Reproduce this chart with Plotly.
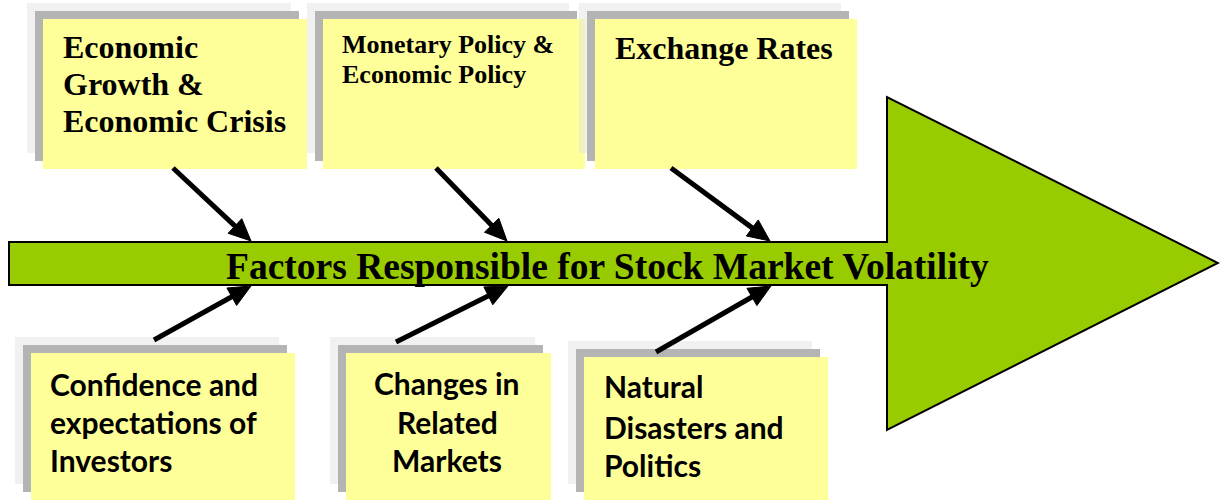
import math
import plotly.graph_objects as go

# ---- content ----
title_text = "Factors Responsible for Stock Market Volatility"
top_labels = [
    ["Economic", "Growth &", "Economic Crisis"],
    ["Monetary Policy &", "Economic Policy"],
    ["Exchange Rates"],
]
bottom_labels = [
    ["Confidence and", "expectations of", "Investors"],
    ["Changes in", "Related", "Markets"],
    ["Natural", "Disasters and", "Politics"],
]

# ---- layout geometry (pixel space) ----
W, H = 1220, 500
# yellow box rectangles (x0, y0, x1, y1)
top_boxes = [(43, 19, 307, 169), (323, 19, 585, 169), (595, 19, 857, 169)]
bottom_boxes = [(31, 353, 295, 500), (346, 353, 551, 500), (584, 357, 828, 500)]
# text settings
top_text_x = [61, 340, 613]
top_text_baseline = [[58, 95, 132], [53, 83], [59]]
top_font_size = [32, 26, 32]
bottom_align = ["left", "center", "left"]
bottom_text_x = [48, 447, 602]
bottom_text_baseline = [[394, 432, 470], [393, 432, 470], [396, 437, 475]]
bottom_font_size = 30

# small arrows (tail -> tip)
arrows = [
    ((173, 168), (251, 241)),
    ((436, 168), (507, 241)),
    ((671, 168), (770, 241)),
    ((154, 340), (251, 286)),
    ((396, 342), (508, 286)),
    ((656, 352), (771, 286)),
]

YELLOW = "#FFFF99"
DARK = "#B4B4B4"
LIGHT = "rgba(228,228,228,0.5)"
GREEN = "#99CC00"

fig = go.Figure()
shapes = []
annotations = []


def add_box(b):
    x0, y0, x1, y1 = b
    shapes.append(dict(type="rect", x0=x0 - 16, y0=y0 - 16, x1=x1 - 16, y1=y1 - 16,
                       fillcolor=LIGHT, line=dict(width=0), layer="above"))
    shapes.append(dict(type="rect", x0=x0 - 8, y0=y0 - 8, x1=x1 - 8, y1=y1 - 8,
                       fillcolor=DARK, line=dict(width=0), layer="above"))
    shapes.append(dict(type="rect", x0=x0, y0=y0, x1=x1, y1=y1,
                       fillcolor=YELLOW, line=dict(width=0), layer="above"))


for b in top_boxes + bottom_boxes:
    add_box(b)

# main arrow
shaft_y0, shaft_y1 = 242, 285
head_x, head_top, head_bot, tip_x, tip_y = 887, 97, 430, 1218, 263
path = (f"M 9,{shaft_y0} L {head_x},{shaft_y0} L {head_x},{head_top} L {tip_x},{tip_y} "
        f"L {head_x},{head_bot} L {head_x},{shaft_y1} L 9,{shaft_y1} Z")
shapes.append(dict(type="path", path=path, fillcolor=GREEN,
                   line=dict(color="black", width=2), layer="above"))

# small arrows
HEAD_LEN, HEAD_HALF, LW = 22, 10, 5
for (tx, ty), (hx, hy) in arrows:
    dx, dy = hx - tx, hy - ty
    L = math.hypot(dx, dy)
    ux, uy = dx / L, dy / L
    bx, by = hx - ux * HEAD_LEN, hy - uy * HEAD_LEN
    px, py = -uy, ux
    shapes.append(dict(type="line", x0=tx, y0=ty, x1=bx + ux * 2, y1=by + uy * 2,
                       line=dict(color="black", width=LW), layer="above"))
    tri = (f"M {hx},{hy} L {bx + px * HEAD_HALF},{by + py * HEAD_HALF} "
           f"L {bx - px * HEAD_HALF},{by - py * HEAD_HALF} Z")
    shapes.append(dict(type="path", path=tri, fillcolor="black",
                       line=dict(color="black", width=1), layer="above"))

# texts
SERIF = "Liberation Serif"
SANS = "Lato"
for i, lines in enumerate(top_labels):
    fs = top_font_size[i]
    for j, line in enumerate(lines):
        annotations.append(dict(x=top_text_x[i], y=top_text_baseline[i][j] - 0.33 * fs,
                                text=f"<b>{line}</b>", showarrow=False,
                                xanchor="left", yanchor="middle",
                                font=dict(family=SERIF, size=fs, color="black")))

for i, lines in enumerate(bottom_labels):
    for j, line in enumerate(lines):
        annotations.append(dict(x=bottom_text_x[i], y=bottom_text_baseline[i][j] - 0.35 * bottom_font_size,
                                text=f"<b>{line}</b>", showarrow=False,
                                xanchor=bottom_align[i], yanchor="middle",
                                font=dict(family=SANS, size=bottom_font_size, color="black")))

annotations.append(dict(x=607, y=266.5, text=f"<b>{title_text}</b>", showarrow=False,
                        xanchor="center", yanchor="middle",
                        font=dict(family=SERIF, size=37.5, color="black")))

fig.update_layout(
    width=W, height=H,
    margin=dict(l=0, r=0, t=0, b=0),
    paper_bgcolor="white", plot_bgcolor="white",
    xaxis=dict(range=[0, W], visible=False, fixedrange=True),
    yaxis=dict(range=[H, 0], visible=False, fixedrange=True),
    shapes=shapes, annotations=annotations, showlegend=False,
)

fig.write_html("out.html", config={"displayModeBar": False},
               post_script="document.body.style.margin='0';document.body.style.overflow='hidden';")
